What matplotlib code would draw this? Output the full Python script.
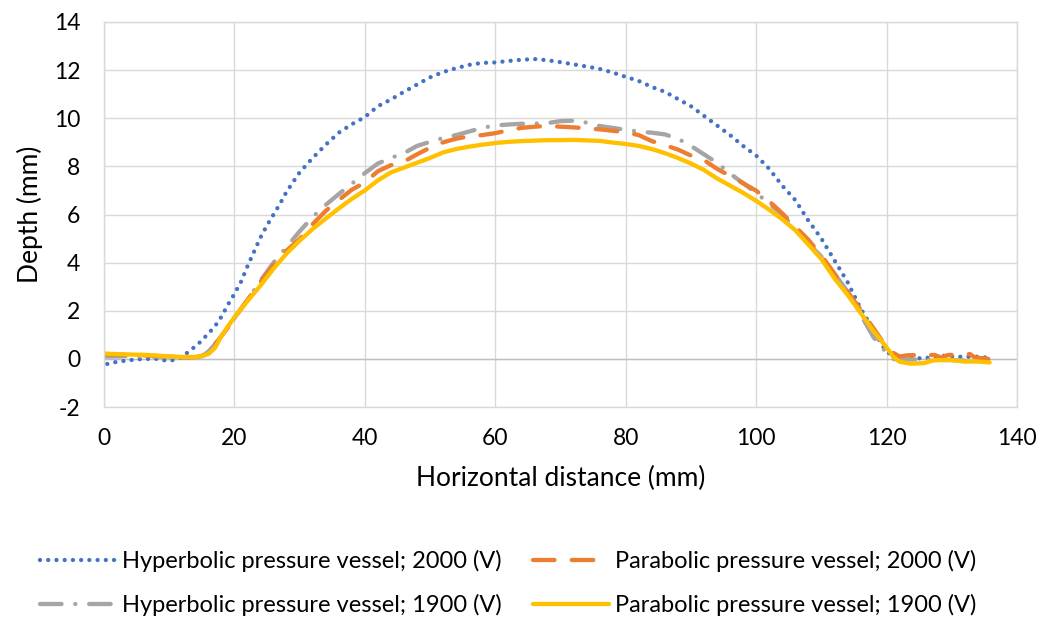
import matplotlib
matplotlib.use("Agg")
import matplotlib.pyplot as plt

# data
x_hyp_2000 = [0.5, 2, 3.2, 5, 7, 8.2, 9.7, 10.9, 12.2, 13.2, 14.2, 15.1, 16, 17, 18, 19, 20, 21, 22, 23,
              24, 25, 26, 27, 28, 29, 30, 32, 34, 36, 38, 40, 42, 44, 46, 48, 50, 52, 54, 56,
              58, 60, 62, 64, 66, 68, 70, 72, 74, 76, 78, 80, 82, 84, 86, 88, 90, 92, 94, 96,
              98, 100, 102, 104, 106, 108, 110, 112, 114, 116, 118, 119.5, 121, 122.5, 124, 126, 128.4, 130, 132, 133.5,
              135.5]
y_hyp_2000 = [-0.21, -0.12, -0.08, -0.02, 0.0, 0.0, -0.08, -0.04, 0.12, 0.36, 0.55, 0.8, 1.05, 1.35, 1.75, 2.25, 2.7, 3.2, 3.85, 4.45,
              5.05, 5.55, 6.0, 6.45, 6.95, 7.35, 7.75, 8.35, 8.9, 9.4, 9.75, 10.05, 10.5, 10.78, 11.1, 11.4, 11.7, 11.92, 12.08, 12.22,
              12.3, 12.32, 12.38, 12.43, 12.46, 12.41, 12.33, 12.24, 12.15, 12.05, 11.9, 11.72, 11.55, 11.3, 11.1, 10.8, 10.5, 10.1, 9.7, 9.3,
              8.85, 8.45, 7.9, 7.2, 6.6, 5.75, 5.0, 4.1, 3.2, 2.1, 1.2, 0.5, 0.05, -0.05, 0.02, 0.03, 0.14, 0.1, 0.08, 0.1,
              0.05]

x_par_2000 = [0, 2, 4, 6, 8, 10, 12, 14, 15, 16, 17, 18, 19, 20, 22, 24, 26, 28, 30, 32,
              34, 36, 38, 40, 42, 44, 46, 48, 50, 52, 54, 56, 58, 60, 62, 64, 66, 68, 70, 72,
              74, 76, 78, 80, 82, 84, 86, 88, 90, 92, 94, 96, 98, 100, 102, 104, 106, 108, 110, 112,
              114, 116, 118, 120, 121, 122, 123.3, 125, 127.4, 128.4, 129.4, 131, 132.8, 133.5, 135.6]
y_par_2000 = [0.2, 0.18, 0.16, 0.15, 0.12, 0.1, 0.06, 0.07, 0.12, 0.3, 0.6, 0.95, 1.3, 1.7, 2.45, 3.2, 3.9, 4.5, 4.98, 5.6,
              6.15, 6.6, 7.03, 7.33, 7.8, 8.05, 8.2, 8.5, 8.78, 9.0, 9.15, 9.25, 9.3, 9.38, 9.5, 9.6, 9.65, 9.68, 9.65, 9.62,
              9.58, 9.54, 9.48, 9.42, 9.3, 9.05, 8.88, 8.7, 8.45, 8.26, 7.9, 7.6, 7.3, 6.99, 6.55, 6.05, 5.5, 4.95, 4.3, 3.55,
              2.8, 2.05, 1.27, 0.48, 0.25, 0.1, 0.15, 0.16, 0.16, 0.05, 0.16, 0.18, 0.2, 0.06, 0.0]

x_hyp_1900 = [0, 2, 4, 6, 8, 10, 12, 14, 15, 16, 17, 18, 19, 20, 22, 24, 26, 28, 30, 32,
              34, 36, 38, 40, 42, 44, 46, 48, 50, 52, 54, 56, 58, 60, 62, 64, 66, 68, 70, 72,
              74, 76, 78, 80, 82, 84, 86, 88, 90, 92, 94, 96, 98, 100, 102, 104, 106, 108, 110, 112,
              114, 116, 118, 120, 121, 122, 123.3, 125, 127.4, 128.4, 129.4, 131, 132.8, 133.5, 135.6]
y_hyp_1900 = [0.1, 0.1, 0.12, 0.1, 0.1, 0.1, 0.05, 0.05, 0.1, 0.3, 0.6, 0.95, 1.3, 1.7, 2.45, 3.25, 4.0, 4.65, 5.3, 5.9,
              6.4, 6.85, 7.28, 7.72, 8.12, 8.35, 8.55, 8.85, 9.02, 9.18, 9.3, 9.45, 9.6, 9.7, 9.74, 9.77, 9.78, 9.8, 9.88, 9.9,
              9.82, 9.68, 9.6, 9.52, 9.45, 9.4, 9.33, 9.15, 8.85, 8.5, 8.15, 7.7, 7.3, 6.9, 6.45, 6.0, 5.4, 4.8, 4.25, 3.55,
              2.8, 1.85, 0.9, 0.25, 0.0, -0.04, -0.02, -0.03, -0.04, -0.05, -0.05, -0.06, -0.08, -0.08, -0.1]

x_par_1900 = [0, 2, 4, 6, 8, 10, 12, 14, 15, 16, 17, 18, 19, 20, 22, 24, 26, 28, 30, 32,
              34, 36, 38, 40, 42, 44, 46, 48, 50, 52, 54, 56, 58, 60, 62, 64, 66, 68, 70, 72,
              74, 76, 78, 80, 82, 84, 86, 88, 90, 92, 94, 96, 98, 100, 102, 104, 106, 108, 110, 112,
              114, 116, 118, 120, 121, 122, 123.7, 125.7, 127.2, 129.8, 131.8, 133.9, 135.8]
y_par_1900 = [0.22, 0.2, 0.18, 0.17, 0.14, 0.1, 0.08, 0.08, 0.12, 0.2, 0.45, 0.95, 1.35, 1.73, 2.4, 3.05, 3.75, 4.38, 4.91, 5.4,
              5.83, 6.25, 6.65, 7.0, 7.42, 7.75, 7.95, 8.15, 8.35, 8.58, 8.72, 8.82, 8.9, 8.97, 9.02, 9.05, 9.07, 9.09, 9.09, 9.1,
              9.08, 9.06, 8.99, 8.93, 8.85, 8.72, 8.55, 8.35, 8.12, 7.85, 7.5, 7.2, 6.9, 6.57, 6.2, 5.8, 5.35, 4.75, 4.15, 3.35,
              2.67, 1.92, 1.15, 0.48, 0.1, -0.12, -0.2, -0.18, -0.06, -0.04, -0.11, -0.11, -0.15]

labels = ["Hyperbolic pressure vessel; 2000 (V)", "Parabolic pressure vessel; 2000 (V)",
          "Hyperbolic pressure vessel; 1900 (V)", "Parabolic pressure vessel; 1900 (V)"]

plt.rcParams['font.family'] = ['Lato', 'DejaVu Sans']
plt.rcParams['axes.unicode_minus'] = False

fig = plt.figure(figsize=(10.56, 6.21), dpi=100)
ax = fig.add_axes([104 / 1056, 1 - 407 / 621, (1017 - 104) / 1056, (407 - 22) / 621])

lw = 3.1
l1, = ax.plot(x_hyp_2000, y_hyp_2000, color='#4472C4', lw=lw, linestyle=(0, (0.01, 1.9)),
              dash_capstyle='round', label=labels[0])
l3, = ax.plot(x_hyp_1900, y_hyp_1900, color='#A5A5A5', lw=lw, linestyle=(0, (5.0, 3.2, 0.01, 3.2)),
              dash_capstyle='round', label=labels[2])
l2, = ax.plot(x_par_2000, y_par_2000, color='#ED7D31', lw=lw, linestyle=(0, (5.0, 4.0)),
              dash_capstyle='round', label=labels[1])
l4, = ax.plot(x_par_1900, y_par_1900, color='#FFC000', lw=lw, solid_capstyle='round', label=labels[3])

ax.set_xlim(0, 140)
ax.set_ylim(-2, 14)
ax.set_xticks(range(0, 141, 20))
ax.set_yticks(range(-2, 15, 2))
ax.grid(True, color='#d9d9d9', lw=1.0)
ax.set_axisbelow(True)
ax.axhline(0, color='#bfbfbf', lw=1.0, zorder=1)
for s in ax.spines.values():
    s.set_color('#d9d9d9')
    s.set_linewidth(1.0)
ax.tick_params(length=0, labelsize=16.5, colors='#000000')
ax.tick_params(axis='x', pad=15)
ax.tick_params(axis='y', pad=17)

ax.set_xlabel("Horizontal distance (mm)", fontsize=19, labelpad=12)
ax.set_ylabel("Depth (mm)", fontsize=19, labelpad=8)

# row-wise order: column 1 = hyperbolic, column 2 = parabolic
fig.legend([l1, l3, l2, l4], [labels[0], labels[2], labels[1], labels[3]], ncol=2, loc='center',
           bbox_to_anchor=(508 / 1056, 1 - 583 / 621), frameon=False, fontsize=17,
           handlelength=3.2, columnspacing=1.35, labelspacing=0.95, handletextpad=0.25)

fig.savefig("out.png", dpi=100)
